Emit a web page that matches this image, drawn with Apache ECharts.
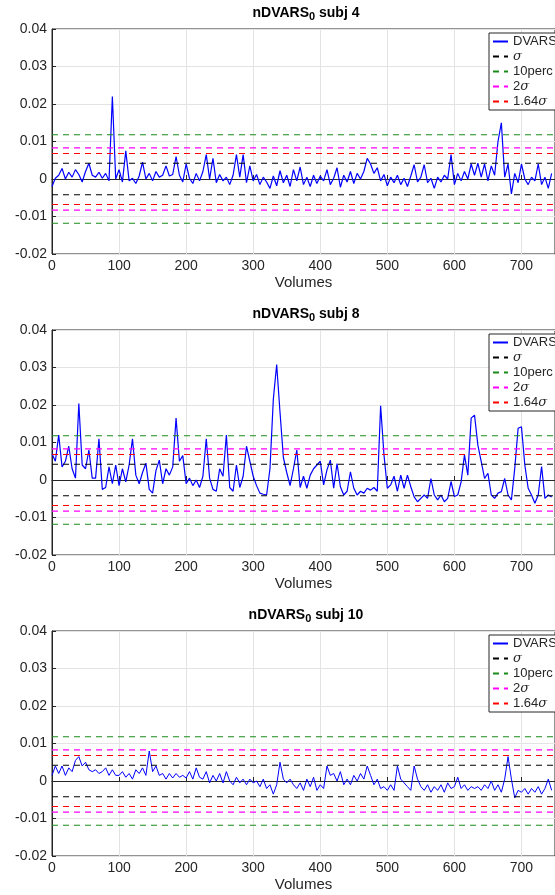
<!DOCTYPE html>
<html>
<head>
<meta charset="UTF-8">
<title>nDVARS</title>
<script src="https://cdn.jsdelivr.net/npm/echarts@6/dist/echarts.min.js"></script>
<style>html,body{margin:0;padding:0;background:#fff;}</style>
</head>
<body>
<div id="main" style="width:555px;height:895px;"></div>
<script>
// nDVARS_0 per volume, every 5 volumes (units of 1e-3)
var volStep = 5;
var volMax = 750;
var subj4 = [
  -2.0, 0.2, 1.0, 2.8, 0.0, 1.8, 0.5, 2.5, 1.2, -0.8,
  2.0, 4.2, 1.0, 0.5, 1.8, 0.2, 1.5, -0.5, 22.0, 0.0,
  2.5, -0.8, 7.5, -0.5, 0.2, -1.2, 0.8, 4.5, 0.0, 1.5,
  -0.5, 2.0, 0.5, 1.0, 3.5, 0.8, 1.2, 6.0, 1.0, -0.8,
  4.0, 0.2, -1.2, 1.5, -0.5, 2.0, 6.5, 0.0, 5.5, -1.0,
  1.2, -0.5, 0.5, -1.5, 1.0, 6.5, 0.5, 6.5, -1.0, 3.5,
  -0.5, 1.2, -1.5, 0.5, -0.8, -2.5, 0.8, -1.8, 2.2, -1.0,
  1.0, -2.0, 2.5, -0.5, 3.2, -1.5, 0.5, -2.0, 1.0, -1.2,
  0.8, -0.5, 2.5, -1.5, 0.2, 3.0, -2.2, 1.0, -0.8, 2.0,
  -1.2, 1.5, 0.0, 2.0, 5.5, 4.0, 1.5, 3.0, -0.5, 1.2,
  -1.8, 0.5, -1.0, 1.0, -1.5, 0.2, -2.0, 0.8, 3.8, -0.8,
  0.5, 3.8, -1.0, 0.2, -2.5, 0.5, -0.8, 1.0, 0.0, 6.5,
  -1.5, 1.5, -0.5, 2.0, 0.0, 4.0, 1.0, 4.2, 0.5, 4.0,
  -0.5, 3.5, 1.0, 10.0, 15.0, 0.5, 4.0, -4.0, 1.5, -1.0,
  4.0, 0.0, -1.5, 0.5, -0.5, 4.0, -1.5, 0.5, -2.5, 1.5
];
var subj8 = [
  7, 5, 12, 3.5, 5, 9, 3, 0.5, 20.4, 4,
  3, 8, 0.5, 0.5, 11, -2.5, -2, 3.5, -1, 4,
  -1.5, 3, -0.5, 4, 11, 1.3, -1, 2, 4.5, -2.5,
  -3.5, 2.5, 5.3, -1, 3, 1.3, 3.5, 16.5, 5, 6.5,
  -1, 0.5, -1.5, 0, -2, 1, 11, 0.5, -2.5, -3,
  3, 1, 12, -2, -3, 4, -2, 1, 9, 5,
  1, -1.5, -3.5, -3.8, -4, 3, 21.5, 30.8, 18, 6,
  2, -1.5, 3, 8, -2, 1, -2.2, 1.3, 3, 4,
  5, -1.3, 2.7, 5.3, -2.2, 4.4, -1.8, -4, -3, 2.2,
  -2.2, -4, -3, -3.5, -2.2, -2.7, -2, -3, 19.8, 6.7,
  -2.2, -1.3, 1, -3, 1.3, -2.2, 1.3, -1.8, -4.5, -5.8,
  -4.9, -4, -4.9, 0.4, -4, -5.3, -4, -5.8, -4.9, -0.4,
  -4.4, -4, -0.5, 6.7, 1.3, 16.5, 17.3, 9.3, 4.9, 0.4,
  1.8, -4, -4.9, -3.5, -3.1, 0.4, -4, -5.3, 3.1, 13.8,
  14.2, 4, -2.2, -4, -6.2, -4, 3.6, -4.9, -4, -4.5
];
var subj10 = [
  1.5, 4, 2, 4, 1.5, 3.5, 2.5, 5.5, 6.5, 4,
  5, 3, 2.5, 3, 2, 2.5, 3.5, 1.5, 3, 1.5,
  1.5, 2.5, 1, 2, 0.5, 3, 2, 3.5, 1.5, 8,
  2.5, 4, 1.5, 2, 0.5, 2, 0.8, 2, 1, 1.5,
  0.8, 2.5, 0.5, 3.5, 1, 0.5, 2.5, -0.5, 1.5, 0,
  2, -0.5, 2.5, 0, -1, 1, -0.5, 0.5, -1, 0.5,
  -0.5, 0, -1.5, 0.5, -2, -1, -3.5, -1, 5, 0.5,
  -0.5, 0.5, -1, -2, -0.5, -2.5, 0.5, -1.5, 1, -2.5,
  -1, -2, 4, 1.5, 2, 0, 2.5, -1, 0.5, -1,
  1.5, 0, 2, 0.5, 4, 1.5, -1, 0.5, -2, -1.5,
  -2.5, -1, -2.5, 4, 0.5, -0.5, -1.5, -2.5, 4, 0.5,
  -1.5, -2.5, -1, -3, -1.5, -2.5, -1, -3, -0.5, -2,
  -1.5, 1, -2, -1, -2.5, -1.5, -2, -1.5, -2.5, -1,
  -2, 0, -2.5, -1, -3, 0.5, 6.5, 0.5, -4.5, -2.5,
  -3, -2, -3.5, -2, -3, -1.5, -3.5, -2, 0.5, -2.5
];
var subjects = ['4', '8', '10'];
var dvars = [subj4, subj8, subj10];

// thresholds (drawn at +level and -level)
var thrNames = ['σ', '10perc', '2σ', '1.64σ'];
var thrLevels = [0.0042, 0.0118, 0.0083, 0.0068];
var thrColors = ['#000000', '#1a8a1a', '#ff00ff', '#ff0000'];
var lineWidths = [1.2, 1.2, 1.0];

var gridTops = [29, 330, 631];
var axisColor = '#262626';

var grids = [], xAxes = [], yAxes = [], legends = [], series = [], titles = [];

gridTops.forEach(function (top, i) {
    grids.push({left: 52, top: top, width: 506, height: 225, show: true,
        borderColor: axisColor, borderWidth: 1});

    xAxes.push({
        gridIndex: i, type: 'value', min: 0, max: volMax, interval: 100,
        name: 'Volumes', nameLocation: 'middle', nameGap: 21,
        nameTextStyle: {fontSize: 15, color: axisColor, fontFamily: 'Liberation Sans'},
        axisLine: {lineStyle: {color: axisColor}},
        axisTick: {inside: true, length: 4, lineStyle: {color: axisColor}},
        axisLabel: {fontSize: 14, color: axisColor, margin: 5, showMaxLabel: false,
            fontFamily: 'Liberation Sans'},
        splitLine: {show: true, lineStyle: {color: '#e3e3e3'}}
    });

    yAxes.push({
        gridIndex: i, type: 'value', min: -0.02, max: 0.04, interval: 0.01,
        axisLine: {show: true, lineStyle: {color: axisColor}},
        axisTick: {show: true, inside: true, length: 4, lineStyle: {color: axisColor}},
        axisLabel: {fontSize: 14, color: axisColor, margin: 5, fontFamily: 'Liberation Sans',
            formatter: function (v) { return String(+v.toFixed(2)); }},
        splitLine: {show: true, lineStyle: {color: '#e3e3e3'}}
    });

    legends.push({
        orient: 'vertical', left: 489, top: top + 4,
        data: ['DVARS'].concat(thrNames),
        itemWidth: 15, itemHeight: 12, itemGap: 2,
        padding: [2, 40, 2, 3],
        borderColor: axisColor, borderWidth: 1, borderRadius: 0,
        backgroundColor: '#ffffff',
        selectedMode: false,
        itemStyle: {opacity: 0},
        textStyle: {fontSize: 13, color: axisColor, fontFamily: 'Liberation Sans',
            rich: {s: {fontSize: 13, fontStyle: 'italic', fontFamily: 'DejaVu Serif'}}},
        formatter: function (name) { return name.replace('σ', '{s|σ}'); }
    });

    series.push({
        type: 'line', name: 'DVARS', xAxisIndex: i, yAxisIndex: i,
        symbol: 'none', z: 2,
        lineStyle: {color: '#0000ff', width: lineWidths[i]},
        itemStyle: {color: '#0000ff'},
        data: dvars[i].map(function (v, k) { return [k * volStep, v / 1000]; })
    });

    thrNames.forEach(function (name, t) {
        [1, -1].forEach(function (sgn) {
            series.push({
                type: 'line', name: name, xAxisIndex: i, yAxisIndex: i,
                symbol: 'none', z: 3, silent: true,
                lineStyle: {color: thrColors[t], width: 1.2, type: [6, 5]},
                itemStyle: {color: thrColors[t]},
                data: [[0, sgn * thrLevels[t]], [volMax, sgn * thrLevels[t]]]
            });
        });
    });

    titles.push({
        type: 'text', x: 306, y: top - 16,
        style: {
            text: '{b|nDVARS}{sub|0}{b| subj ' + subjects[i] + '}',
            align: 'center', verticalAlign: 'middle',
            rich: {
                b: {fontSize: 14, fontWeight: 'bold', fill: '#000', fontFamily: 'Liberation Sans'},
                sub: {fontSize: 11, fontWeight: 'bold', fill: '#000', fontFamily: 'Liberation Sans',
                    padding: [8, 0, 0, 0]}
            }
        }
    });
});

var myChart = echarts.init(document.getElementById('main'));
myChart.setOption({
    animation: false,
    backgroundColor: '#ffffff',
    grid: grids,
    xAxis: xAxes,
    yAxis: yAxes,
    legend: legends,
    series: series,
    graphic: titles
});
</script>
</body>
</html>
